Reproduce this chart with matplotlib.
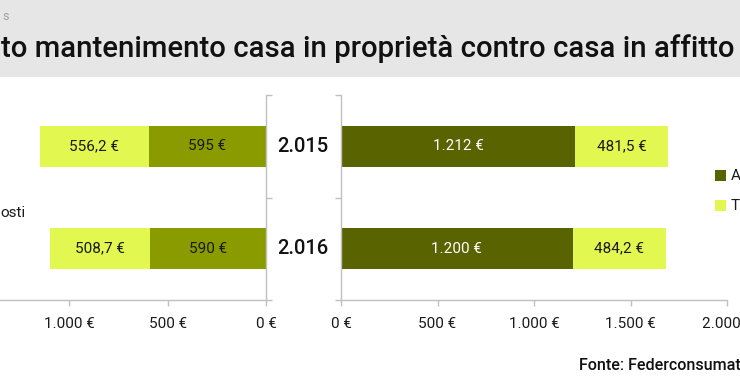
import matplotlib
matplotlib.use("Agg")
import matplotlib.pyplot as plt
from matplotlib.patches import Rectangle
from matplotlib.transforms import blended_transform_factory

plt.rcParams['font.family'] = ['Roboto', 'DejaVu Sans']

years = ["2.015", "2.016"]
# left chart (casa in proprietà)
own_inner = [595, 590]
own_outer = [556.2, 508.7]
own_inner_lbl = ["595 €", "590 €"]
own_outer_lbl = ["556,2 €", "508,7 €"]
# right chart (casa in affitto)
rent_inner = [1212, 1200]
rent_outer = [481.5, 484.2]
rent_inner_lbl = ["1.212 €", "1.200 €"]
rent_outer_lbl = ["481,5 €", "484,2 €"]
left_ticks = [0, 500, 1000, 1500]
left_ticklbl = ["0 €", "500 €", "1.000 €", "1.500 €"]
right_ticks = [0, 500, 1000, 1500, 2000]
right_ticklbl = ["0 €", "500 €", "1.000 €", "1.500 €", "2.000 €"]
legend_right = ["A", "T"]

W, H = 740, 389
fig = plt.figure(figsize=(W / 100, H / 100), dpi=100)

C_LEFT_DARK = "#8a9b00"
C_LIGHT = "#e2f850"
C_RIGHT_DARK = "#596300"
C_AXIS = "#c0c0c0"
C_TXT = "#1a1a1a"
FS = 11

# header band
fig.patches.append(Rectangle((0, 1 - 77 / H), 1, 77 / H, transform=fig.transFigure,
                             facecolor="#e6e6e6", edgecolor="none", zorder=0))
fig.text(2 / W, 1 - 16 / H, "s", fontsize=9, color="#a0a0a0", va="center", ha="left")
fig.text(1 / W, 1 - 49 / H, "to mantenimento casa in proprietà contro casa in affitto",
         fontsize=21.2, color="#111111", va="center", ha="left", weight="medium")

ybot = 1 - 300 / H
yh = (300 - 95) / H
axL = fig.add_axes([-29 / W, ybot, (266 + 29) / W, yh])
axR = fig.add_axes([341 / W, ybot, (727 - 341) / W, yh])

ypos = list(range(len(years)))
bh = 0.4

axL.barh(ypos, own_inner, height=bh, color=C_LEFT_DARK, zorder=2)
axL.barh(ypos, own_outer, left=own_inner, height=bh, color=C_LIGHT, zorder=2)
axR.barh(ypos, rent_inner, height=bh, color=C_RIGHT_DARK, zorder=2)
axR.barh(ypos, rent_outer, left=rent_inner, height=bh, color=C_LIGHT, zorder=2)

for i in ypos:
    axL.text(own_inner[i] / 2, i, own_inner_lbl[i], ha="center", va="center",
             fontsize=FS, color=C_TXT)
    axL.text(own_inner[i] + own_outer[i] / 2, i, own_outer_lbl[i], ha="center",
             va="center", fontsize=FS, color=C_TXT)
    axR.text(rent_inner[i] / 2, i, rent_inner_lbl[i], ha="center", va="center",
             fontsize=FS, color="white")
    axR.text(rent_inner[i] + rent_outer[i] / 2, i, rent_outer_lbl[i], ha="center",
             va="center", fontsize=FS, color=C_TXT)

axL.set_xlim(1500, 0)
axR.set_xlim(0, 2000)
for ax in (axL, axR):
    ax.set_ylim(len(years) - 0.5, -0.5)
    ax.set_yticks([k - 0.5 for k in range(len(years) + 1)])
    ax.set_yticklabels([])
    for s in ax.spines.values():
        s.set_color(C_AXIS)
        s.set_linewidth(1)
    ax.tick_params(axis="both", color=C_AXIS, length=4.5, width=1,
                   labelsize=FS, labelcolor=C_TXT, pad=8)
    ax.set_facecolor("none")

axL.spines["left"].set_visible(False)
axL.spines["top"].set_visible(False)
axL.yaxis.tick_right()
axL.set_xticks(left_ticks)
axL.set_xticklabels(left_ticklbl)

axR.spines["right"].set_visible(False)
axR.spines["top"].set_visible(False)
axR.set_xticks(right_ticks)
axR.set_xticklabels(right_ticklbl)

# year labels between the two charts
tr = blended_transform_factory(fig.transFigure, axR.transData)
for i, y in enumerate(years):
    fig.text(303 / W, i, y, transform=tr, ha="center", va="center",
             fontsize=14.5, color="#111111", weight="medium")

# left legend fragment
fig.text(0 / W, 1 - 213 / H, "osti", ha="left", va="center", fontsize=FS, color=C_TXT)

# right legend fragments
for j, (lab, col) in enumerate(zip(legend_right, [C_RIGHT_DARK, C_LIGHT])):
    yc = 176 + j * 30
    fig.patches.append(Rectangle((715 / W, 1 - (yc + 5) / H), 11 / W, 11 / H,
                                 transform=fig.transFigure, facecolor=col,
                                 edgecolor="none"))
    fig.text(731 / W, 1 - yc / H, lab, ha="left", va="center", fontsize=FS, color=C_TXT)

fig.text(579 / W, 1 - 366 / H, "Fonte: Federconsumat", ha="left", va="center",
         fontsize=11.6, color="#111111", weight="medium")

fig.savefig("out.png", dpi=100)
